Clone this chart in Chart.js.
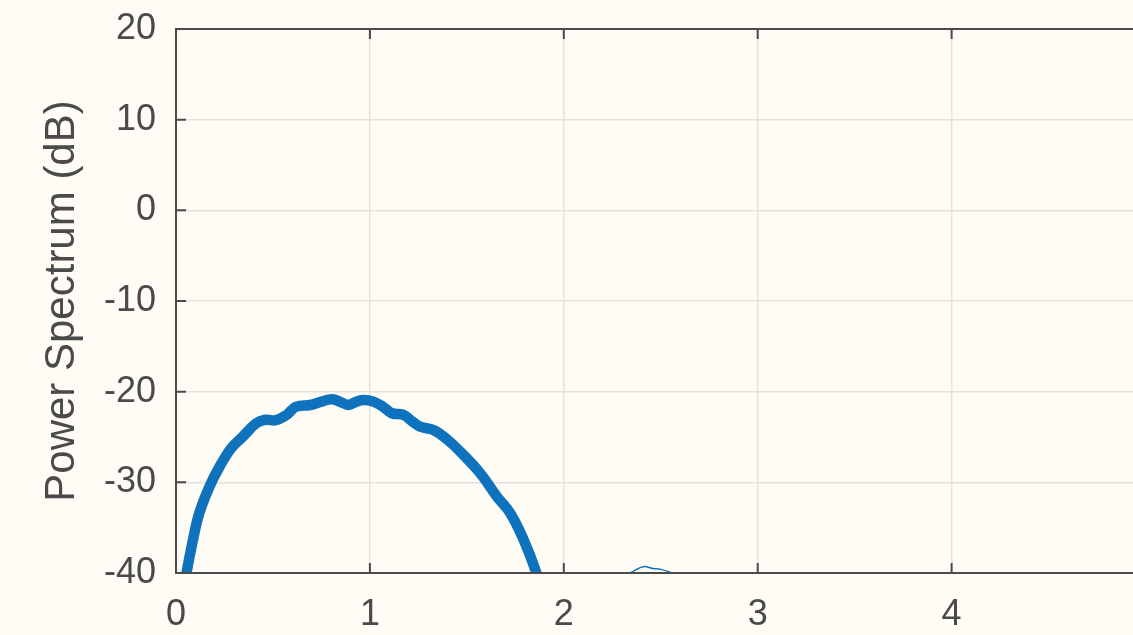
<!DOCTYPE html>
<html>
<head>
<meta charset="utf-8">
<script src="https://cdn.jsdelivr.net/npm/chart.js@4.4.1/dist/chart.umd.min.js"></script>
<style>
  html, body { margin: 0; padding: 0; background: #fffcf5; overflow: hidden; }
  #wrap { width: 1162px; height: 635px; }
</style>
</head>
<body>
<div id="wrap"><canvas id="c" width="1162" height="635"></canvas></div>
<script>
// Frequency axis and power spectrum (dB) of the main lobe
const freq = [0.04, 0.055, 0.086, 0.12, 0.172, 0.224, 0.284, 0.344, 0.413, 0.46, 0.515, 0.568, 0.619,
  0.692, 0.75, 0.804, 0.85, 0.889, 0.93, 0.967, 1.018, 1.07, 1.113, 1.173, 1.22, 1.259, 1.328,
  1.40, 1.466, 1.569, 1.655, 1.724, 1.793, 1.853, 1.875];
const power = [-42, -39.9, -36.5, -33.4, -30.5, -28.3, -26.25, -24.97, -23.5, -23.1, -23.15, -22.6, -21.66,
  -21.47, -21.1, -20.84, -21.15, -21.47, -21.1, -20.92, -21.1, -21.7, -22.38, -22.57, -23.3, -23.86, -24.23,
  -25.3, -26.62, -29.0, -31.58, -33.4, -36.35, -39.65, -41.5];

// Small side lobe just above the floor
const sideFreq = [2.32, 2.36, 2.41, 2.46, 2.50, 2.55, 2.57];
const sidePower = [-40.3, -39.8, -39.3, -39.5, -39.6, -39.95, -40.3];

const xTicks = [0, 1, 2, 3, 4, 5];
const yTicks = [-40, -30, -20, -10, 0, 10, 20];

const ink = '#4a4a4a';
const blue = '#0f72bd';
const fontFamily = '"Liberation Sans", Arial, Helvetica, sans-serif';

const toXY = (xs, ys) => xs.map((x, i) => ({ x: x, y: ys[i] }));

// Box round the axes with short inward tick marks on all four sides
const axesBox = {
  id: 'axesBox',
  afterDraw(chart) {
    const { ctx, chartArea: a, scales } = chart;
    const len = 10;
    ctx.save();
    ctx.strokeStyle = ink;
    ctx.lineWidth = 2;
    ctx.beginPath();
    ctx.rect(a.left, a.top, a.right - a.left, a.bottom - a.top);
    ctx.stroke();
    ctx.beginPath();
    xTicks.forEach(v => {
      const px = scales.x.getPixelForValue(v);
      ctx.moveTo(px, a.bottom); ctx.lineTo(px, a.bottom - len);
      ctx.moveTo(px, a.top); ctx.lineTo(px, a.top + len);
    });
    yTicks.forEach(v => {
      const py = scales.y.getPixelForValue(v);
      ctx.moveTo(a.left, py); ctx.lineTo(a.left + len, py);
      ctx.moveTo(a.right, py); ctx.lineTo(a.right - len, py);
    });
    ctx.stroke();
    ctx.restore();
  }
};

new Chart(document.getElementById('c'), {
  type: 'line',
  data: {
    datasets: [
      {
        data: toXY(freq, power),
        borderColor: blue,
        borderWidth: 10.5,
        pointRadius: 0,
        tension: 0.4,
        fill: false,
        clip: 0
      },
      {
        data: toXY(sideFreq, sidePower),
        borderColor: blue,
        borderWidth: 1.5,
        pointRadius: 0,
        tension: 0.4,
        fill: false,
        clip: 0
      }
    ]
  },
  options: {
    responsive: false,
    animation: false,
    devicePixelRatio: 1,
    layout: { padding: { top: 29, right: 16.5, left: 0, bottom: 0 } },
    plugins: { legend: { display: false }, tooltip: { enabled: false } },
    scales: {
      x: {
        type: 'linear',
        min: 0, max: 5,
        afterBuildTicks: s => { s.ticks = xTicks.map(v => ({ value: v })); },
        afterFit: s => { s.height = 62; s.paddingLeft = 0; s.paddingRight = 0; },
        border: { display: false },
        grid: { color: '#e4e2dc', lineWidth: 1.5, drawTicks: false },
        ticks: { color: ink, padding: 20, font: { family: fontFamily, size: 36 } }
      },
      y: {
        min: -40, max: 20,
        afterBuildTicks: s => { s.ticks = yTicks.map(v => ({ value: v })); },
        afterFit: s => { s.width = 176; s.paddingTop = 0; s.paddingBottom = 0; },
        border: { display: false },
        grid: { color: '#e4e2dc', lineWidth: 1.5, drawTicks: false },
        ticks: { color: ink, padding: 20, font: { family: fontFamily, size: 36 } },
        title: {
          display: true,
          text: 'Power Spectrum (dB)',
          color: ink,
          font: { family: fontFamily, size: 42 },
          padding: { top: 37, bottom: 0 }
        }
      }
    }
  },
  plugins: [axesBox]
});
</script>
</body>
</html>
